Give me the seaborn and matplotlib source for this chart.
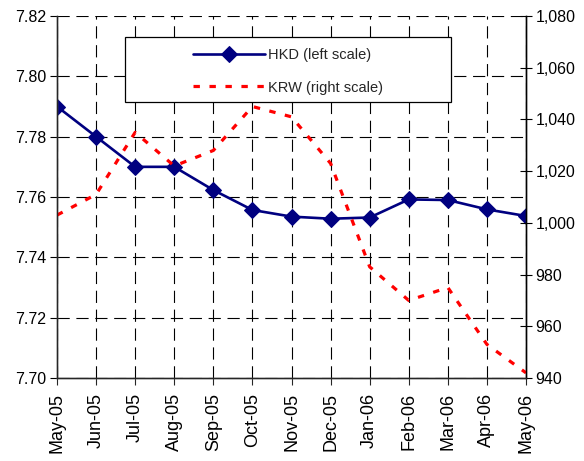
import matplotlib
matplotlib.use("Agg")
import matplotlib.pyplot as plt
from matplotlib.patches import Rectangle
from matplotlib.ticker import FuncFormatter
import seaborn as sns
import pandas as pd

# monthly exchange rates
months = ["May-05", "Jun-05", "Jul-05", "Aug-05", "Sep-05", "Oct-05", "Nov-05",
          "Dec-05", "Jan-06", "Feb-06", "Mar-06", "Apr-06", "May-06"]
hkd = [7.790, 7.780, 7.770, 7.770, 7.7623, 7.7557, 7.7535, 7.7528, 7.7532,
       7.7592, 7.7590, 7.7559, 7.7537]
krw = [1003, 1011, 1035, 1022, 1028, 1045, 1041, 1023, 983, 970, 975, 953, 942]
left_ticks = [7.70, 7.72, 7.74, 7.76, 7.78, 7.80, 7.82]
right_ticks = [940, 960, 980, 1000, 1020, 1040, 1060, 1080]

sns.set_theme(style="white")
plt.rcParams['font.family'] = ['Liberation Sans', 'DejaVu Sans']

df = pd.DataFrame({"pos": range(len(months)), "month": months, "HKD": hkd, "KRW": krw})

fig = plt.figure(figsize=(5.84, 4.61), dpi=100)
ax = fig.add_axes([0.0976, 0.18, 0.8031, 0.7853])
ax2 = ax.twinx()

sns.lineplot(data=df, x="pos", y="HKD", ax=ax, color="#000080", lw=1.9,
             marker="D", markersize=8.5, markeredgecolor="#000080", legend=False)
sns.lineplot(data=df, x="pos", y="KRW", ax=ax2, color="#ff0000", lw=2.3,
             linestyle=(0, (2, 3)), legend=False)

ax.set_xlim(0, len(months) - 1)
ax.set_ylim(left_ticks[0], left_ticks[-1])
ax2.set_ylim(right_ticks[0], right_ticks[-1])
ax.set_xticks(df["pos"])
ax.set_xticklabels(months, rotation=90, fontsize=13, color="black")
ax.set_yticks(left_ticks)
ax2.set_yticks(right_ticks)
ax.yaxis.set_major_formatter(FuncFormatter(lambda v, p: f"{v:.2f}"))
ax2.yaxis.set_major_formatter(FuncFormatter(lambda v, p: f"{v:,.0f}"))
ax.set_xlabel("")
ax.set_ylabel("")
ax2.set_ylabel("")

ax.tick_params(axis="y", left=True, direction="out", length=5, width=0.8,
               labelsize=11.5, colors="black", pad=3)
ax.tick_params(axis="x", bottom=True, direction="out", length=5, width=0.8, pad=6)
ax2.tick_params(axis="y", right=True, direction="inout", length=8, width=0.8,
                labelsize=11.5, colors="black", pad=3)

ax.grid(True, color="black", lw=0.8, linestyle=(0, (11, 6)))
ax2.grid(False)

ax.spines["top"].set_visible(False)
ax2.spines["top"].set_visible(False)
ax.spines["left"].set_color("#606060")
ax.spines["bottom"].set_color("#606060")
ax2.spines["right"].set_color("black")
for a in (ax, ax2):
    for s in a.spines.values():
        s.set_linewidth(1.0)

# legend box
ax2.add_patch(Rectangle((0.145, 0.762), 0.695, 0.18, transform=ax2.transAxes,
                        facecolor="white", edgecolor="black", lw=0.9, zorder=5))
handles = [ax.get_lines()[0], ax2.get_lines()[0]]
labels = ["HKD (left scale)", "KRW (right scale)"]
leg = ax2.legend(handles, labels, loc="center", bbox_to_anchor=(0.4925, 0.847),
                 frameon=False, handlelength=5, fontsize=10.5, labelspacing=1.25,
                 handletextpad=0.2)
leg.set_zorder(6)

fig.savefig("out.png", dpi=100)
plt.close(fig)
